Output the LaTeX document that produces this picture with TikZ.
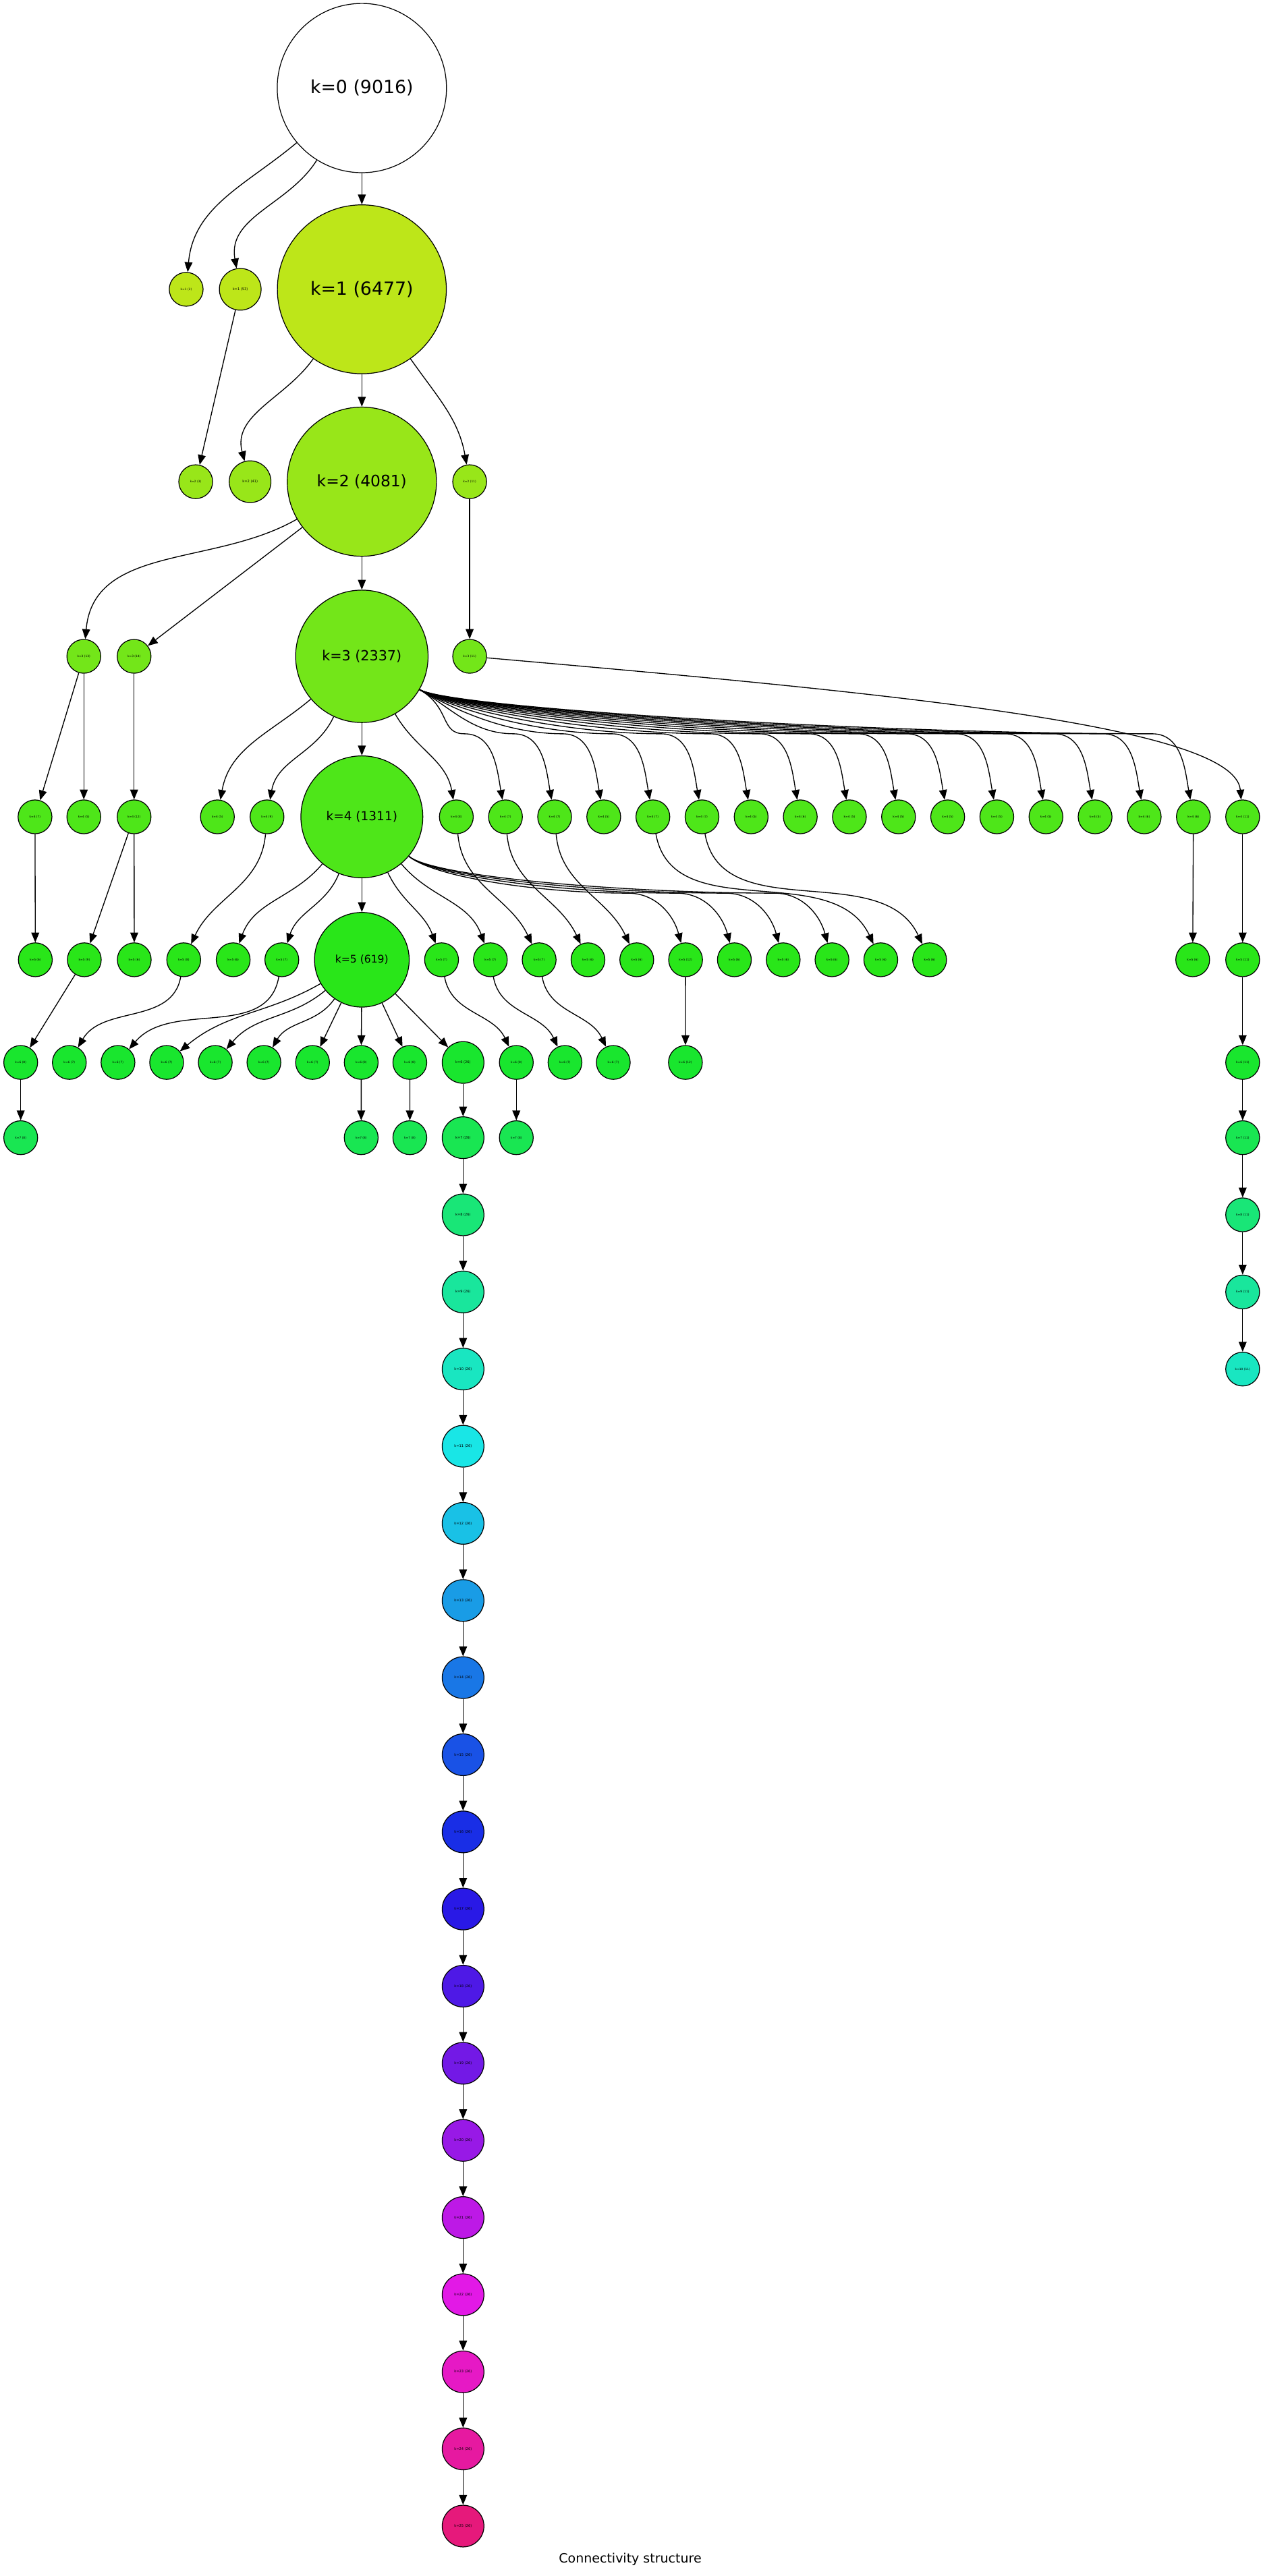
\documentclass[tikz,border=0pt]{standalone}
\usepackage{fontspec}
\setmainfont{DejaVu Sans}
\usepackage{tikz}
\usetikzlibrary{arrows.meta, calc}

% one fill colour for each core number k
\definecolor{kc1}{HTML}{BDE619}
\definecolor{kc2}{HTML}{98E619}
\definecolor{kc3}{HTML}{73E619}
\definecolor{kc4}{HTML}{4EE619}
\definecolor{kc5}{HTML}{29E619}
\definecolor{kc6}{HTML}{19E62E}
\definecolor{kc7}{HTML}{19E652}
\definecolor{kc8}{HTML}{19E677}
\definecolor{kc9}{HTML}{19E69C}
\definecolor{kc10}{HTML}{19E6C1}
\definecolor{kc11}{HTML}{19E6E6}
\definecolor{kc12}{HTML}{19C1E6}
\definecolor{kc13}{HTML}{199CE6}
\definecolor{kc14}{HTML}{1977E6}
\definecolor{kc15}{HTML}{1952E6}
\definecolor{kc16}{HTML}{192EE6}
\definecolor{kc17}{HTML}{2919E6}
\definecolor{kc18}{HTML}{4E19E6}
\definecolor{kc19}{HTML}{7319E6}
\definecolor{kc20}{HTML}{9819E6}
\definecolor{kc21}{HTML}{BD19E6}
\definecolor{kc22}{HTML}{E219E6}
\definecolor{kc23}{HTML}{E619C5}
\definecolor{kc24}{HTML}{E619A0}
\definecolor{kc25}{HTML}{E6197B}

\begin{document}
\begin{tikzpicture}[x=1pt, y=1pt,
    vtx/.style={circle, draw, line width=0.5pt, inner sep=0pt, minimum size=20.6pt, font=\fontsize{1.8}{2}\selectfont},
    wide/.style={vtx, minimum size=25.4pt, font=\fontsize{2.1}{2.5}\selectfont},
    core/.style 2 args={circle, draw, line width=0.5pt, inner sep=0pt, minimum size=#1, font=\fontsize{#2}{#2}\selectfont},
    edge/.style={-{Triangle[length=6pt, width=4.8pt]}, line width=0.55pt}]
    \useasboundingbox (0,0) rectangle (767,-1568);

    % main spine k=0 ... k=5
    \node[core={103pt}{11}, fill=white] (k0) at (220.2,-53.6) {k=0 (9016)};
    \node[core={102.8pt}{11}, fill=kc1] (k1) at (220.2,-176.1) {k=1 (6477)};
    \node[core={90.8pt}{9.6}, fill=kc2] (k2) at (220.2,-293.2) {k=2 (4081)};
    \node[core={80.6pt}{8.5}, fill=kc3] (k3) at (220.2,-399.5) {k=3 (2337)};
    \node[core={74.2pt}{7.6}, fill=kc4] (k4) at (220.2,-497.2) {k=4 (1311)};
    \node[core={57.6pt}{6.4}, fill=kc5] (k5) at (220.2,-584.2) {k=5 (619)};

    % small components, rank by rank
    \node[vtx, fill=kc1] (a1) at (113.3,-176.1) {k=1 (2)};
    \node[wide, fill=kc1] (a2) at (146.2,-176.1) {k=1 (53)};
    \node[vtx, fill=kc2] (b1) at (119.1,-293.2) {k=2 (3)};
    \node[wide, fill=kc2] (b2) at (152.2,-293.2) {k=2 (41)};
    \node[vtx, fill=kc2] (b3) at (285.8,-293.2) {k=2 (11)};
    \node[vtx, fill=kc3] (c1) at (51,-399.5) {k=3 (13)};
    \node[vtx, fill=kc3] (c2) at (81.6,-399.5) {k=3 (14)};
    \node[vtx, fill=kc3] (c3) at (285.8,-399.5) {k=3 (11)};

    \node[vtx, fill=kc4] (d1) at (21.3,-497.2) {k=4 (7)};
    \node[vtx, fill=kc4] (d2) at (51,-497.2) {k=4 (5)};
    \node[vtx, fill=kc4] (d3) at (81.6,-497.2) {k=4 (12)};
    \node[vtx, fill=kc4] (d4) at (132.3,-497.2) {k=4 (5)};
    \node[vtx, fill=kc4] (d5) at (162.5,-497.2) {k=4 (9)};
    \foreach \i/\n in {1/8,2/7,3/7,4/5,5/7,6/7,7/5,8/6,9/5,10/5,11/5,12/5,13/5,14/5,15/6,16/6}
        \node[vtx, fill=kc4] (e\i) at ({277.7+29.9*(\i-1)},-497.2) {k=4 (\n)};
    \node[vtx, fill=kc4] (rc4) at (756.2,-497.2) {k=4 (11)};

    \node[vtx, fill=kc5] (f1) at (21.5,-584.2) {k=5 (6)};
    \node[vtx, fill=kc5] (f2) at (51.3,-584.2) {k=5 (9)};
    \node[vtx, fill=kc5] (f3) at (81.7,-584.2) {k=5 (6)};
    \node[vtx, fill=kc5] (f4) at (111.8,-584.2) {k=5 (8)};
    \node[vtx, fill=kc5] (f5) at (141.9,-584.2) {k=5 (6)};
    \node[vtx, fill=kc5] (f6) at (171.5,-584.2) {k=5 (7)};
    \foreach \i/\n in {7/7,8/7,9/7,10/6,11/6,12/12,13/6,14/6,15/6,16/6,17/6}
        \node[vtx, fill=kc5] (f\i) at ({268.7+29.7*(\i-7)},-584.2) {k=5 (\n)};
    \node[vtx, fill=kc5] (f18) at (725.8,-584.2) {k=5 (6)};
    \node[vtx, fill=kc5] (rc5) at (756.2,-584.2) {k=5 (11)};

    \foreach \i/\n in {1/8,2/7,3/7,4/7,5/7,6/7,7/7,8/8,9/8}
        \node[vtx, fill=kc6] (g\i) at ({12.6+29.6*(\i-1)},-646.7) {k=6 (\n)};
    \node[wide, fill=kc6] (ch6) at (281.8,-646.7) {k=6 (26)};
    \node[vtx, fill=kc6] (g11) at (314.2,-646.7) {k=6 (8)};
    \node[vtx, fill=kc6] (g12) at (343.8,-646.7) {k=6 (7)};
    \node[vtx, fill=kc6] (g13) at (373.2,-646.7) {k=6 (7)};
    \node[vtx, fill=kc6] (g14) at (417.1,-646.7) {k=6 (12)};
    \node[vtx, fill=kc6] (rc6) at (756.2,-646.7) {k=6 (11)};

    \node[vtx, fill=kc7] (h1) at (12.6,-692.5) {k=7 (8)};
    \node[vtx, fill=kc7] (h2) at (219.8,-692.5) {k=7 (8)};
    \node[vtx, fill=kc7] (h3) at (249.4,-692.5) {k=7 (8)};
    \node[wide, fill=kc7] (ch7) at (281.8,-692.5) {k=7 (26)};
    \node[vtx, fill=kc7] (h5) at (314.2,-692.5) {k=7 (8)};
    \node[vtx, fill=kc7] (rc7) at (756.2,-692.5) {k=7 (11)};

    % the two long chains
    \foreach \k in {8,...,25}
        \node[wide, fill=kc\k] (ch\k) at (281.8,{-692.5-46.95*(\k-7)}) {k=\k{} (26)};
    \foreach \k in {8,9,10}
        \node[vtx, fill=kc\k] (rc\k) at (756.2,{-692.5-46.95*(\k-7)}) {k=\k{} (11)};

    \node[font=\fontsize{7.8}{9}\selectfont] (title) at (383.5,-1558) {Connectivity structure};

    % edges down from the spine
    \draw[edge] (k0) to[out=-140, in=85] (a1);
    \draw[edge] (k0) to[out=-122, in=100] (a2);
    \draw[edge] (k0) -- (k1);
    \draw[edge] (a2) -- (b1);
    \draw[edge] (k1) to[out=-125, in=105] (b2);
    \draw[edge] (k1) -- (k2);
    \draw[edge] (k1) to[out=-55, in=100] (b3);
    \draw[edge] (k2) to[out=-150, in=85] (c1);
    \draw[edge] (k2) -- (c2);
    \draw[edge] (k2) -- (k3);
    \draw[edge] (b3) -- (c3);
    \draw[edge] (c1) -- (d1);
    \draw[edge] (c1) -- (d2);
    \draw[edge] (c2) -- (d3);
    \draw[edge] (k3) to[out=-140, in=80] (d4);
    \draw[edge] (k3) to[out=-115, in=80] (d5);
    \draw[edge] (k3) -- (k4);
    \draw[edge] (k3) to[out=-60, in=100] (e1);
    \foreach \i in {2,...,16}
        \draw[edge] (k3) to[out=-30, in=180, out distance=22pt] ($(e\i.north)+(-25,40)$) to[out=0, in=100] (e\i);
    \draw[edge] (c3) to[out=-5, in=95, out distance=250pt, in distance=45pt] (rc4);

    \draw[edge] (d1) -- (f1);
    \draw[edge] (d3) -- (f2);
    \draw[edge] (d3) -- (f3);
    \draw[edge] (d5) to[out=-95, in=65] (f4);
    \draw[edge] (k4) to[out=-130, in=70] (f5);
    \draw[edge] (k4) to[out=-112, in=72] (f6);
    \draw[edge] (k4) -- (k5);
    \draw[edge] (k4) to[out=-65, in=110] (f7);
    \draw[edge] (k4) to[out=-50, in=110] (f8);
    \foreach \i in {12,...,15}
        \draw[edge] (k4) to[out=-40, in=180, out distance=20pt] ($(f\i.north)+(-35,30)$) to[out=0, in=105] (f\i);
    \draw[edge] (e1) to[out=-85, in=115] (f9);
    \draw[edge] (e2) to[out=-85, in=115] (f10);
    \draw[edge] (e3) to[out=-85, in=115] (f11);
    \draw[edge] (e5) to[out=-80, in=115] (f16);
    \draw[edge] (e6) to[out=-80, in=115] (f17);
    \draw[edge] (e16) -- (f18);

    \draw[edge] (f2) -- (g1);
    \draw[edge] (f4) to[out=-100, in=60] (g2);
    \draw[edge] (f6) to[out=-100, in=50] (g3);
    \draw[edge] (k5) to[out=-150, in=40] (g4);
    \draw[edge] (k5) to[out=-140, in=50] (g5);
    \draw[edge] (k5) to[out=-125, in=60] (g6);
    \draw[edge] (k5) -- (g7);
    \draw[edge] (k5) -- (g8);
    \draw[edge] (k5) -- (g9);
    \draw[edge] (k5) -- (ch6);
    \draw[edge] (f7) to[out=-80, in=115] (g11);
    \draw[edge] (f8) to[out=-80, in=115] (g12);
    \draw[edge] (f9) to[out=-80, in=115] (g13);
    \draw[edge] (f12) -- (g14);

    \draw[edge] (g1) -- (h1);
    \draw[edge] (g8) -- (h2);
    \draw[edge] (g9) -- (h3);
    \draw[edge] (g11) -- (h5);
    \foreach \k in {7,...,25} {
        \pgfmathtruncatemacro\p{\k-1}
        \draw[edge] (ch\p) -- (ch\k);
    }
    \foreach \k in {5,...,10} {
        \pgfmathtruncatemacro\p{\k-1}
        \draw[edge] (rc\p) -- (rc\k);
    }
\end{tikzpicture}
\end{document}
